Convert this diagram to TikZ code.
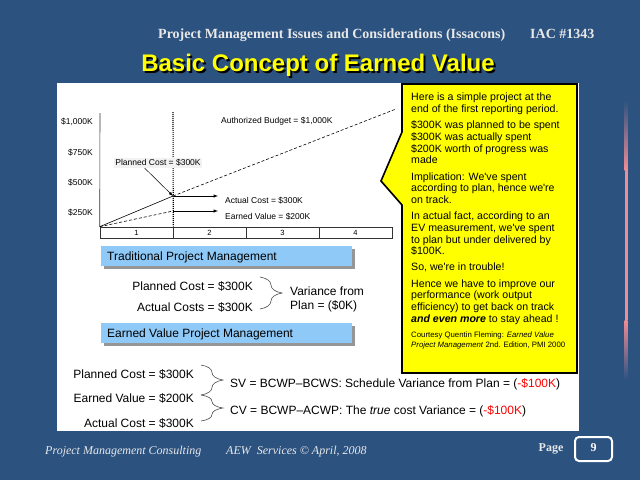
\documentclass[tikz,border=0pt]{standalone}
\usepackage{fontspec}
\setmainfont{Liberation Serif}
\newfontfamily\arialfont{Liberation Sans}
\usetikzlibrary{arrows,calc,decorations.pathreplacing}

\definecolor{fondbleu}{RGB}{44,82,128}
\definecolor{gristete}{RGB}{232,232,232}
\definecolor{jaune}{RGB}{255,255,0}
\definecolor{bandeau}{RGB}{143,201,247}
\definecolor{ombre}{RGB}{150,150,150}
\definecolor{rose}{RGB}{240,140,150}
\definecolor{rouge}{RGB}{255,0,0}

\begin{document}
\begin{tikzpicture}[x=1pt,y=-1pt]
	\tikzstyle{tete}=[font=\bfseries\fontsize{14}{16}\selectfont, text=gristete, inner sep=0pt, anchor=base west]
	\tikzstyle{pied}=[font=\itshape\fontsize{12}{14}\selectfont, text=gristete, inner sep=0pt, anchor=base west]
	\tikzstyle{axe}=[font=\arialfont\fontsize{8.5}{10}\selectfont, inner sep=0pt]
	\tikzstyle{cellule}=[draw=black!80, line width=0.6pt, minimum width=73pt, minimum height=11pt, inner sep=0pt, font=\arialfont\fontsize{7.5}{9}\selectfont]
	\tikzstyle{texte}=[font=\arialfont\fontsize{12}{14}\selectfont, inner sep=0pt]
	\tikzstyle{tirets}=[black, line width=0.6pt, dash pattern=on 3pt off 2pt]
	\tikzstyle{fleche}=[-latex, black, line width=0.5pt]
	\tikzstyle{accolade}=[decorate, decoration={brace, amplitude=22pt}, draw=black!70, line width=0.6pt]

	% fond
	\fill[fondbleu] (0,0) rectangle (640,480);
	\shade[top color=fondbleu, bottom color=rose] (624.5,100) rectangle (627.5,170);
	\fill[rose] (624.5,170) rectangle (627.5,320);
	\shade[top color=rose, bottom color=fondbleu] (624.5,320) rectangle (627.5,380);

	% en-tete
	\node[tete] (soustitre) at (158,38){Project Management Issues and Considerations (Issacons)};
	\node[tete] (iac) at (530,38){IAC \#1343};
	\node[font=\arialfont\bfseries\fontsize{24}{28}\selectfont, text=jaune, anchor=base, inner sep=0pt] (titre) at (318,71){\makebox[0pt][l]{\hspace{2pt}\raisebox{-2pt}{\textcolor{black}{Basic Concept of Earned Value}}}Basic Concept of Earned Value};

	% panneau blanc
	\fill[white] (57,83) rectangle (579,431);

	% graphique
	\node[axe, anchor=base east] (k1000) at (93,124){\$1,000K};
	\node[axe, anchor=base east] (k750) at (93,155){\$750K};
	\node[axe, anchor=base east] (k500) at (93,185){\$500K};
	\node[axe, anchor=base east] (k250) at (93,215){\$250K};
	\node[cellule] (c1) at (136.5,232.5){1};
	\node[cellule] (c2) at (209.5,232.5){2};
	\node[cellule] (c3) at (282.5,232.5){3};
	\node[cellule] (c4) at (355.5,232.5){4};
	\coordinate (O) at (c1.north west);
	\coordinate (haut) at (100,113);
	\coordinate (date) at (173,112);
	\coordinate (PV) at (173,196);
	\coordinate (EV) at (173,211);
	\coordinate (BAC) at (396,109);
	\coordinate (finAC) at (218,196);
	\coordinate (finEV) at (218,211);
	\draw[black!80, line width=0.6pt] (O) -- (haut);
	\draw[black, line width=1.1pt, dash pattern=on 1.2pt off 0.8pt] (date) -- (c1.north east);
	\draw[black, line width=0.6pt] (O) -- (PV);
	\draw[tirets] (PV) -- (BAC);
	\draw[tirets] (O) -- (EV);
	\draw[fleche] (PV) -- (finAC);
	\draw[fleche] (EV) -- (finEV);
	\node[axe, anchor=base west] (budget) at (221,123){Authorized Budget = \$1,000K};
	\node[axe, anchor=base west] (ac) at (225,203){Actual Cost = \$300K};
	\node[axe, anchor=base west] (ev) at (225,219){Earned Value = \$200K};
	\node[axe, fill=black!5, inner sep=1.5pt] (pc) at (158,163){Planned Cost = \$300K};
	\draw[fleche] ($(pc.south west)!0.35!(pc.south east)$) -- (PV);

	% bandeaux
	\fill[ombre] (104,249) rectangle (355,269);
	\fill[bandeau] (101,246) rectangle (352,266);
	\node[texte, anchor=base west] (trad) at (107,260.5){Traditional Project Management};
	\fill[ombre] (104,326) rectangle (355,346);
	\fill[bandeau] (101,323) rectangle (352,343);
	\node[texte, anchor=base west] (evpm) at (107,337.5){Earned Value Project Management};

	% gestion traditionnelle
	\node[texte, anchor=base east] (tpc) at (253,290){Planned Cost = \$300K};
	\node[texte, anchor=base east] (tac) at (253,311){Actual Costs = \$300K};
	\coordinate (a1) at (260,277);
	\coordinate (a2) at (260,309);
	\draw[accolade] (a1) -- (a2);
	\node[texte, anchor=base west] (var) at (290,295){Variance from};
	\node[texte, anchor=base west] (plan) at (290,309.5){Plan = (\$0K)};

	% gestion par valeur acquise
	\node[texte, anchor=base east] (bpc) at (194,378){Planned Cost = \$300K};
	\node[texte, anchor=base east] (bev) at (194,402){Earned Value = \$200K};
	\node[texte, anchor=base east] (bac) at (194,427){Actual Cost = \$300K};
	\coordinate (b1) at (201,365);
	\coordinate (b2) at (201,395);
	\coordinate (b3) at (201,421);
	\draw[accolade] (b1) -- (b2);
	\draw[accolade] (b2) -- (b3);
	\node[texte, anchor=base west] (sv) at (230,387){SV = BCWP–BCWS: Schedule Variance from Plan = (\textcolor{rouge}{-\$100K})};
	\node[texte, anchor=base west] (cv) at (230,414){CV = BCWP–ACWP: The \textit{true} cost Variance = (\textcolor{rouge}{-\$100K})};

	% bulle jaune
	\draw[fill=jaune, line width=1.6pt] (402,84) -- (577,84) -- (577,373) -- (402,373) -- (402,205) -- (381,181) -- (402,132) -- cycle;
	\node[font=\arialfont\fontsize{10.6}{11.7}\selectfont, align=left, anchor=north west, inner sep=0pt] (note) at (411,93){Here is a simple project at the\\end of the first reporting period.\\[4.5pt]
		\$300K was planned to be spent\\\$300K was actually spent\\\$200K worth of progress was\\made\\[4.5pt]
		Implication: We've spent\\according to plan, hence we're\\on track.\\[4.5pt]
		In actual fact, according to an\\EV measurement, we've spent\\to plan but under delivered by\\\$100K.\\[4.5pt]
		So, we're in trouble!\\[4.5pt]
		Hence we have to improve our\\performance (work output\\efficiency) to get back on track\\\textbf{\textit{and even more}} to stay ahead !};
	\node[font=\arialfont\fontsize{7.8}{10}\selectfont, align=left, anchor=base west, inner sep=0pt] (source) at (411,347.5){Courtesy Quentin Fleming: \textit{Earned Value}\\\textit{Project Management} 2nd. Edition, PMI 2000};

	% pied de page
	\node[pied] (consult) at (45,454){Project Management Consulting};
	\node[pied] (aew) at (226,454){AEW\ \ Services © April, 2008};
	\node[font=\bfseries\fontsize{12}{14}\selectfont, text=gristete, inner sep=0pt] (page) at (551,449){Page};
	\draw[white, line width=2pt, rounded corners=4pt] (575,437) rectangle (612,461);
	\node[font=\bfseries\fontsize{12}{14}\selectfont, text=white, inner sep=0pt] (num) at (593.5,448){9};
\end{tikzpicture}
\end{document}
